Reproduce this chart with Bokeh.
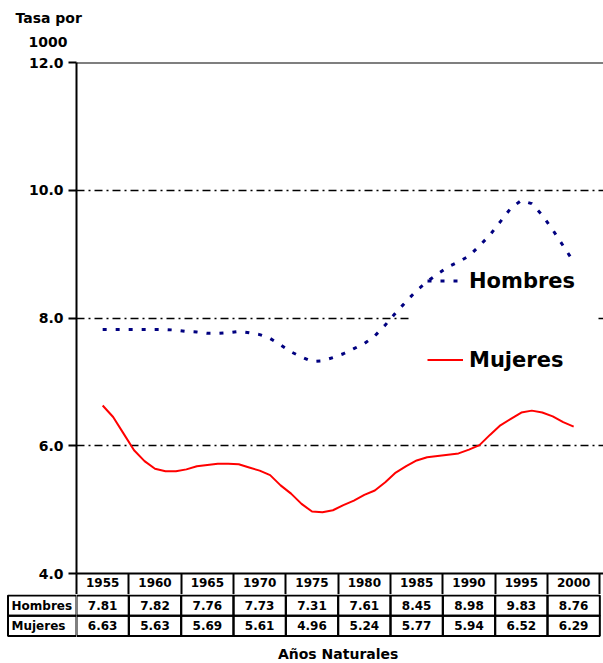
from bokeh.plotting import figure
from bokeh.models import (Range1d, FixedTicker, NumeralTickFormatter, Span, Legend,
                          LegendItem, BoxAnnotation, Title)
from bokeh.layouts import column, row
from bokeh.core.properties import value
from bokeh.embed import file_html
from bokeh.resources import INLINE

# ---------------- data ----------------
years = list(range(1955, 2001))
hombres = [7.82, 7.82, 7.82, 7.82, 7.82, 7.82, 7.82, 7.81, 7.79, 7.78,
           7.76, 7.76, 7.77, 7.79, 7.77,
           7.74, 7.68, 7.58, 7.47, 7.39,
           7.32, 7.33, 7.38, 7.44, 7.52,
           7.60, 7.72, 7.89, 8.08, 8.26,
           8.43, 8.57, 8.69, 8.80, 8.88,
           8.97, 9.13, 9.30, 9.51, 9.72,
           9.84, 9.79, 9.61, 9.38, 9.13,
           8.88]
mujeres = [6.63, 6.45, 6.19, 5.93, 5.76,
           5.64, 5.60, 5.60, 5.63, 5.68,
           5.70, 5.72, 5.72, 5.71, 5.66,
           5.61, 5.54, 5.38, 5.25, 5.09,
           4.97, 4.96, 4.99, 5.07, 5.14,
           5.23, 5.30, 5.43, 5.58, 5.68,
           5.77, 5.82, 5.84, 5.86, 5.88,
           5.94, 6.01, 6.17, 6.32, 6.42,
           6.52, 6.55, 6.52, 6.46, 6.37,
           6.30]

table_years = [1955, 1960, 1965, 1970, 1975, 1980, 1985, 1990, 1995, 2000]
table_hombres = [7.81, 7.82, 7.76, 7.73, 7.31, 7.61, 8.45, 8.98, 9.83, 8.76]
table_mujeres = [6.63, 5.63, 5.69, 5.61, 4.96, 5.24, 5.77, 5.94, 6.52, 6.29]
row_labels = ["Hombres", "Mujeres"]
y_ticks = [4, 6, 8, 10, 12]
grid_ticks = [6, 8, 10]

FONT = "DejaVu Sans"
K = 471.0 / 45.0          # px per year
W = 603
LEFT = 76
X0 = 1952.5
X1 = X0 + (W - LEFT) / K
cell_edges = [yv - 2.5 for yv in table_years] + [table_years[-1] + 2.5]

# ---------------- main chart ----------------
p = figure(width=W, height=594, output_backend="svg", toolbar_location=None,
           x_range=Range1d(X0, X1), y_range=Range1d(4, 12),
           min_border_left=LEFT, min_border_right=0,
           min_border_top=62, min_border_bottom=21)
p.outline_line_color = None
p.xgrid.visible = False

# y axis
p.yaxis.ticker = FixedTicker(ticks=y_ticks)
p.yaxis.formatter = NumeralTickFormatter(format="0.0")
p.yaxis.major_label_text_font = FONT
p.yaxis.major_label_text_font_style = "bold"
p.yaxis.major_label_text_font_size = "14px"
p.yaxis.major_label_text_color = "black"
p.yaxis.axis_line_width = 2
p.yaxis.axis_line_color = "black"
p.yaxis.major_tick_line_width = 2
p.yaxis.major_tick_line_color = "black"
p.yaxis.major_tick_out = 8
p.yaxis.major_tick_in = 0
p.yaxis.minor_tick_out = 0
p.yaxis.minor_tick_in = 0
p.yaxis.major_label_standoff = 5

# x axis = header row of the data table
p.xaxis.ticker = FixedTicker(ticks=table_years, minor_ticks=cell_edges)
p.xaxis.formatter = NumeralTickFormatter(format="0")
p.xaxis.major_label_text_font = FONT
p.xaxis.major_label_text_font_style = "bold"
p.xaxis.major_label_text_font_size = "12px"
p.xaxis.major_label_text_color = "black"
p.xaxis.major_label_standoff = -17
p.xaxis.major_tick_out = 0
p.xaxis.major_tick_in = 0
p.xaxis.minor_tick_out = 21
p.xaxis.minor_tick_in = 0
p.xaxis.minor_tick_line_width = 2
p.xaxis.minor_tick_line_color = "black"
p.xaxis.axis_line_width = 2
p.xaxis.axis_line_color = "black"

p.ygrid.ticker = FixedTicker(ticks=grid_ticks)
p.ygrid.grid_line_color = "black"
p.ygrid.grid_line_width = 1.5
p.ygrid.grid_line_dash = "8 4 2 4"

p.add_layout(Span(location=12, dimension="width", line_color="black", line_width=2))

# white legend backdrop (interrupts the gridline under the legend)
p.add_layout(BoxAnnotation(left=1984.4, right=2002.3, bottom=6.86, top=8.87,
                           fill_color="white", fill_alpha=1.0, line_alpha=0,
                           level="underlay"))

rh = p.line(years, hombres, line_color="#000080", line_width=3, line_dash="4 9")
rm = p.line(years, mujeres, line_color="#FF0000", line_width=2)

legend = Legend(items=[LegendItem(label="Hombres", renderers=[rh]),
                       LegendItem(label="Mujeres", renderers=[rm])],
                location=(351, 201), padding=0, margin=0, spacing=54,
                glyph_width=36, glyph_height=25, label_height=25, label_standoff=6,
                label_text_font=FONT, label_text_font_style="bold",
                label_text_font_size="21px", label_text_color="black",
                background_fill_alpha=0, border_line_alpha=0)
p.add_layout(legend)

p.add_layout(Title(text="1000", align="left", offset=-48, text_font=FONT,
                   text_font_style="bold", text_font_size="14px",
                   text_color="black", standoff=32), "above")
p.add_layout(Title(text="Tasa por", align="left", offset=-61, text_font=FONT,
                   text_font_style="bold", text_font_size="14px",
                   text_color="black", standoff=-14), "above")

# ---------------- data table rows ----------------
RU = 20.3
YT = 2.0 + 1.0 / RU
TH = 69
yr = Range1d(YT - TH / RU, YT)


def bare(width, xr):
    f = figure(width=width, height=TH, output_backend="svg", toolbar_location=None,
               x_range=xr, y_range=yr, x_axis_location=None, y_axis_location=None,
               min_border=0, min_border_left=0, min_border_right=0,
               min_border_top=0, min_border_bottom=0)
    f.outline_line_color = None
    f.xgrid.visible = False
    f.ygrid.visible = False
    return f


# label column
c = bare(LEFT, Range1d(X0 - LEFT / K, X0))
lab_left = X0 - 68.5 / K
c.quad(left=[lab_left, lab_left], right=[X0, X0], bottom=[1, 0], top=[2, 1],
       fill_color=None, line_color="black", line_width=2)
c.text(x=[lab_left + 3.5 / K] * 2, y=[1.5, 0.5], text=row_labels, text_align="left",
       text_baseline="middle", text_font=value(FONT), text_font_style="bold",
       text_font_size="12px", text_color="black")

# value cells
t = bare(W - LEFT, Range1d(X0, X1))
lefts = cell_edges[:-1]
rights = cell_edges[1:]
for top_row in (2, 1):
    t.quad(left=lefts, right=rights, bottom=[top_row - 1] * len(lefts),
           top=[top_row] * len(lefts), fill_color=None, line_color="black",
           line_width=2)

common = dict(text_align="center", text_baseline="middle", text_font=value(FONT),
              text_font_style="bold", text_font_size="12px", text_color="black")
t.text(x=table_years, y=[1.5] * len(table_years), text=[f"{v:.2f}" for v in table_hombres], **common)
t.text(x=table_years, y=[0.5] * len(table_years), text=[f"{v:.2f}" for v in table_mujeres], **common)
t.text(x=[(X0 + cell_edges[-1]) / 2], y=[-0.9], text=["Años Naturales"], text_align="center",
       text_baseline="middle", text_font=value(FONT), text_font_style="bold",
       text_font_size="14px", text_color="black")

layout = column(p, row(c, t, spacing=0), spacing=0)
open("out.html", "w").write(file_html(layout, INLINE))
